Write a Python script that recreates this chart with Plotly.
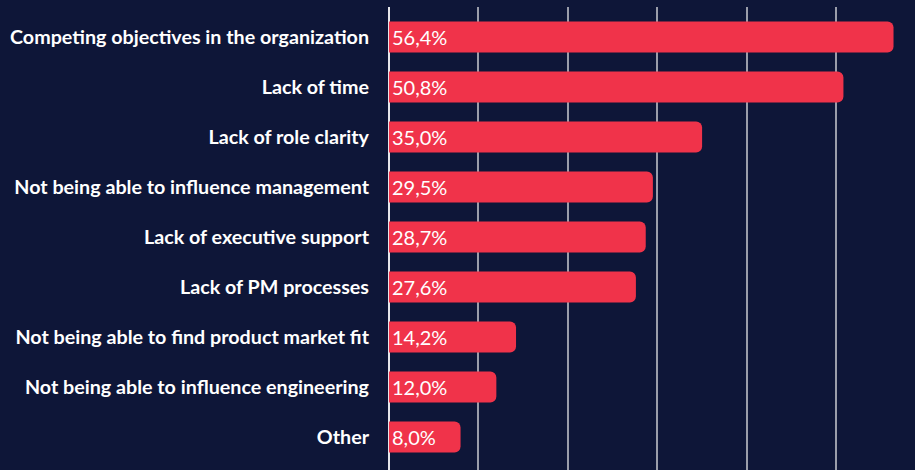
import plotly.graph_objects as go

labels = ['Competing objectives in the organization', 'Lack of time', 'Lack of role clarity',
          'Not being able to influence management', 'Lack of executive support',
          'Lack of PM processes', 'Not being able to find product market fit',
          'Not being able to influence engineering', 'Other']
values = [56.4, 50.8, 35.0, 29.5, 28.7, 27.6, 14.2, 12.0, 8.0]
texts = [f'{v:.1f}%'.replace('.', ',') for v in values]

bg = '#0e1638'

fig = go.Figure(go.Bar(
    x=values, y=labels, orientation='h',
    marker=dict(color='#f0334a', line=dict(width=0)),
    width=0.62,
    text=texts, textposition='inside', insidetextanchor='start',
    textfont=dict(family='Lato', size=20, color='white'),
    hoverinfo='skip'))

fig.update_xaxes(range=[0, 58.8], showgrid=True, gridcolor='#9a9daa', gridwidth=2,
                 dtick=10, showticklabels=False, zeroline=True,
                 zerolinecolor='#e6e6ea', zerolinewidth=2, fixedrange=True)
fig.update_yaxes(range=[8.66, -0.6], showgrid=False, ticks='', ticklabelstandoff=19,
                 automargin=False, fixedrange=True,
                 tickfont=dict(family='Lato', size=19.7, color='white', weight='bold'))
fig.update_layout(width=915, height=470, paper_bgcolor=bg, plot_bgcolor=bg,
                  margin=dict(l=389, r=0, t=7, b=0), barcornerradius=6,
                  showlegend=False, font=dict(family='Lato'))

fig.write_html('out.html', config={'displayModeBar': False},
               post_script="document.body.style.margin='0';"
               "document.body.style.background='" + bg + "';")
